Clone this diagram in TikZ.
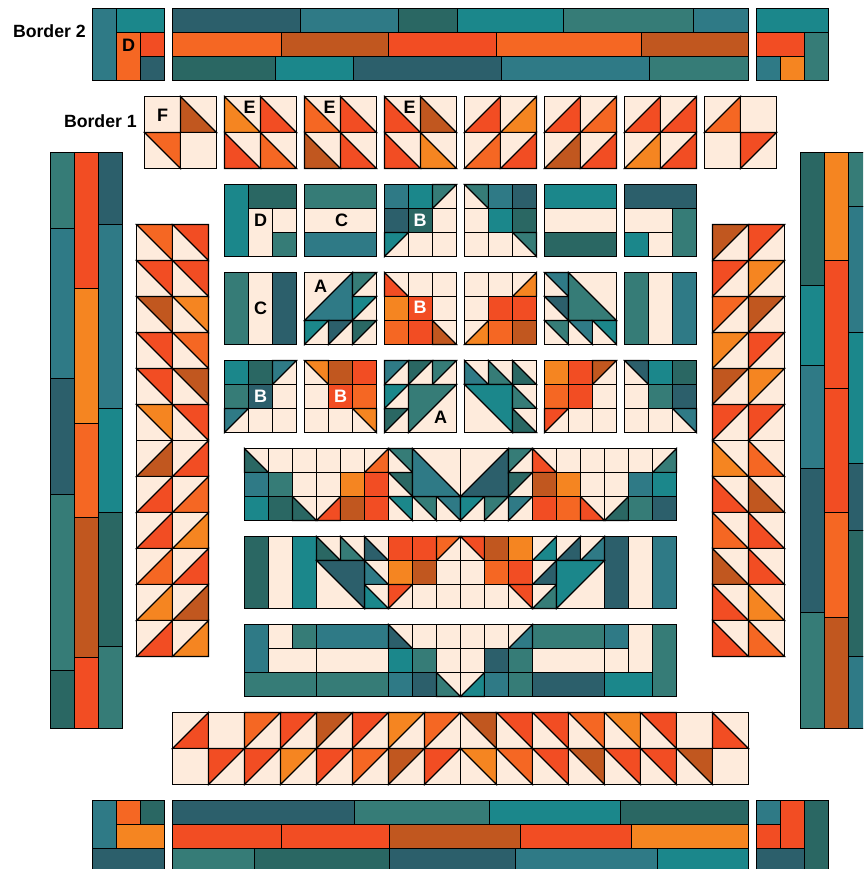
\documentclass[tikz,border=0pt]{standalone}
\usepackage{fontspec}
\setmainfont{Liberation Sans}
\definecolor{turq}{HTML}{1B878B}
\definecolor{sage}{HTML}{367C77}
\definecolor{azul}{HTML}{2F7A86}
\definecolor{navy}{HTML}{2C5F6B}
\definecolor{pine}{HTML}{2A6763}
\definecolor{rojo}{HTML}{F24D23}
\definecolor{naran}{HTML}{F56723}
\definecolor{oro}{HTML}{F58521}
\definecolor{rust}{HTML}{C1571F}
\definecolor{crema}{HTML}{FEEBDC}
\tikzset{
  seam/.style={draw=black,line width=1.1pt,line join=miter},
  tag/.style={font=\bfseries\fontsize{18}{18}\selectfont,inner sep=0pt,text=black},
  tagw/.style={tag,text=white},
  title/.style={font=\bfseries\fontsize{17.7}{18}\selectfont,inner sep=0pt,anchor=east}
}
\newcommand{\tF}{(0,0) rectangle (1,1)}
\newcommand{\tll}{(0,0) -- (0,1) -- (1,1) -- cycle}
\newcommand{\tur}{(0,0) -- (1,0) -- (1,1) -- cycle}
\newcommand{\tul}{(0,1) -- (0,0) -- (1,0) -- cycle}
\newcommand{\tlr}{(0,1) -- (1,1) -- (1,0) -- cycle}
\newcommand{\patch}[5]{%
  \begin{scope}[shift={(#1,#2)},scale=#3]
    \draw[seam,fill=crema] (0,0) rectangle (1,1);
    \draw[seam,fill=#5] \csname t#4\endcsname;
  \end{scope}}
\newcommand{\patchrow}[4]{%
  \foreach \tp/\col [count=\k from 0] in {#4}{
    \pgfmathsetmacro{\px}{#1+\k*#3}
    \patch{\px}{#2}{#3}{\tp}{\col}
  }}
\newcommand{\bars}[1]{%
  \foreach \xa/\ya/\xb/\yb/\col in {#1}{
    \draw[seam,fill=\col] (\xa,\ya) rectangle (\xb,\yb);
  }}
\begin{document}
\begin{tikzpicture}[x=1pt,y=-1pt,line cap=butt]
  \path[use as bounding box,clip] (-0.5,-0.5) rectangle (862.5,868.5);
  % border 2
  \bars{92/8/116/80/azul, 116/8/164/32/turq, 116/32/140/80/naran, 140/32/164/56/rojo, 140/56/164/80/navy,
        756/8/828/32/turq, 756/32/804/56/rojo, 804/32/828/80/sage, 756/56/780/80/azul, 780/56/804/80/oro,
        92/800/116/848/azul, 116/800/140/824/naran, 140/800/164/824/pine, 116/824/164/848/oro, 92/848/164/872/navy,
        756/800/780/824/azul, 780/800/804/848/rojo, 804/800/828/872/pine, 756/824/780/848/rojo, 756/848/804/872/navy}
  \bars{172/8/300/32/navy, 300/8/398/32/azul, 398/8/457/32/pine, 457/8/563/32/turq, 563/8/693/32/sage, 693/8/748/32/azul,
        172/32/281/56/naran, 281/32/388/56/rust, 388/32/496/56/rojo, 496/32/641/56/naran, 641/32/748/56/rust,
        172/56/275/80/pine, 275/56/353/80/turq, 353/56/501/80/navy, 501/56/649/80/azul, 649/56/748/80/sage}
  \bars{172/800/354/824/navy, 354/800/489/824/sage, 489/800/620/824/turq, 620/800/748/824/pine,
        172/824/281/848/rojo, 281/824/389/848/rojo, 389/824/520/848/rust, 520/824/631/848/rojo, 631/824/748/848/oro,
        172/848/254/872/sage, 254/848/389/872/pine, 389/848/515/872/navy, 515/848/657/872/azul, 657/848/748/872/turq}
  \bars{50/152/74/228/sage, 50/228/74/378/azul, 50/378/74/494/navy, 50/494/74/670/sage, 50/670/74/728/pine,
        74/152/98/288/rojo, 74/288/98/423/oro, 74/423/98/517/naran, 74/517/98/657/rust, 74/657/98/728/rojo,
        98/152/122/224/navy, 98/224/122/408/azul, 98/408/122/512/turq, 98/512/122/646/pine, 98/646/122/728/sage}
  \bars{800/152/824/285/pine, 800/285/824/365/turq, 800/365/824/468/azul, 800/468/824/612/navy, 800/612/824/728/sage,
        824/152/848/260/oro, 824/260/848/388/rojo, 824/388/848/512/rojo, 824/512/848/617/naran, 824/617/848/728/rust,
        848/152/872/206/sage, 848/206/872/332/azul, 848/332/872/463/turq, 848/463/872/530/navy, 848/530/872/656/pine, 848/656/872/728/azul}
  % border 1
  \patchrow{144}{96}{36}{F/crema,ll/rust} \patchrow{144}{132}{36}{ur/naran,F/crema}
  \patchrow{224}{96}{36}{ll/oro,ll/rojo} \patchrow{224}{132}{36}{ll/rojo,ll/naran}
  \patchrow{304}{96}{36}{ll/naran,ll/rojo} \patchrow{304}{132}{36}{ll/rust,ll/rojo}
  \patchrow{384}{96}{36}{ll/rojo,ll/rust} \patchrow{384}{132}{36}{ll/rojo,ll/oro}
  \patchrow{464}{96}{36}{lr/rojo,lr/oro} \patchrow{464}{132}{36}{lr/naran,lr/rojo}
  \patchrow{544}{96}{36}{lr/rojo,lr/naran} \patchrow{544}{132}{36}{lr/rust,lr/rojo}
  \patchrow{624}{96}{36}{lr/rojo,lr/rojo} \patchrow{624}{132}{36}{lr/oro,lr/rojo}
  \patchrow{704}{96}{36}{lr/naran,F/crema} \patchrow{704}{132}{36}{F/crema,ul/rojo}
  \foreach \y/\a/\b in {224/naran/rojo,260/rojo/rojo,296/rust/oro,332/rojo/naran,368/rojo/rust,404/oro/rojo}{
    \patchrow{136}{\y}{36}{ur/\a,ur/\b}
  }
  \foreach \y/\a/\b in {440/rust/rojo,476/rojo/naran,512/rojo/oro,548/naran/rojo,584/oro/rust,620/rojo/oro}{
    \patchrow{136}{\y}{36}{lr/\a,lr/\b}
  }
  \foreach \y/\a/\b in {224/rust/rojo,260/rojo/oro,296/naran/rust,332/oro/rojo,368/rust/oro,404/rojo/rojo}{
    \patchrow{712}{\y}{36}{ul/\a,ul/\b}
  }
  \foreach \y/\a/\b in {440/oro/naran,476/rojo/rust,512/naran/rojo,548/rust/rojo,584/rojo/oro,620/rojo/naran}{
    \patchrow{712}{\y}{36}{ll/\a,ll/\b}
  }
  \patchrow{172}{712}{36}{lr/rojo,F/crema,ul/naran,ul/rojo,ul/rust,ul/rojo,ul/oro,ul/naran,
                          ur/rust,ur/rojo,ur/rojo,ur/naran,ur/oro,ur/rojo,F/crema,ll/rojo}
  \patchrow{172}{748}{36}{F/crema,ul/rojo,ul/rojo,ul/oro,ul/rojo,ul/naran,ul/rust,ul/rojo,
                          ur/oro,ur/naran,ur/rojo,ur/rust,ur/rojo,ur/rojo,ur/rust,F/crema}
  % first row of blocks
  \bars{224/184/248/256/turq, 248/184/296/208/pine, 248/208/272/256/crema, 272/208/296/232/crema, 272/232/296/256/sage,
        304/184/376/208/sage, 304/208/376/232/crema, 304/232/376/256/azul,
        544/184/616/208/turq, 544/208/616/232/crema, 544/232/616/256/pine,
        624/184/696/208/navy, 624/208/672/232/crema, 672/208/696/256/sage, 624/232/648/256/turq, 648/232/672/256/crema}
  \patchrow{384}{184}{24}{F/azul,F/turq,ul/sage}
  \patchrow{384}{208}{24}{F/navy,F/pine,F/crema}
  \patchrow{384}{232}{24}{ul/turq,F/crema,F/crema}
  \patchrow{464}{184}{24}{ur/sage,F/azul,F/navy}
  \patchrow{464}{208}{24}{F/crema,F/turq,F/pine}
  \patchrow{464}{232}{24}{F/crema,F/crema,ur/sage}
  % second row of blocks
  \bars{224/272/248/344/sage, 248/272/272/344/crema, 272/272/296/344/navy,
        624/272/648/344/sage, 648/272/672/344/crema, 672/272/696/344/azul}
  \patch{304}{272}{48}{lr}{azul}
  \patch{352}{272}{24}{ul}{sage}
  \patch{352}{296}{24}{ul}{turq}
  \patchrow{304}{320}{24}{ul/turq,ul/navy,ul/pine}
  \patchrow{384}{272}{24}{ll/rojo,F/crema,F/crema}
  \patchrow{384}{296}{24}{F/oro,F/rojo,F/crema}
  \patchrow{384}{320}{24}{F/naran,F/rojo,ll/rust}
  \patchrow{464}{272}{24}{F/crema,F/crema,lr/oro}
  \patchrow{464}{296}{24}{F/crema,F/rojo,F/rojo}
  \patchrow{464}{320}{24}{lr/oro,F/naran,F/rust}
  \patch{544}{272}{24}{ur}{azul}
  \patch{544}{296}{24}{ur}{navy}
  \patch{568}{272}{48}{ll}{sage}
  \patchrow{544}{320}{24}{ur/sage,ur/azul,ur/turq}
  % third row of blocks
  \patchrow{224}{360}{24}{F/turq,F/pine,ul/azul}
  \patchrow{224}{384}{24}{F/sage,F/navy,F/crema}
  \patchrow{224}{408}{24}{ul/azul,F/crema,F/crema}
  \patchrow{304}{360}{24}{ur/oro,F/rust,F/rojo}
  \patchrow{304}{384}{24}{F/crema,F/rojo,F/naran}
  \patchrow{304}{408}{24}{F/crema,F/crema,ur/oro}
  \patchrow{384}{360}{24}{ul/azul,ul/pine,ul/sage}
  \patch{384}{384}{24}{ul}{turq}
  \patch{384}{408}{24}{ul}{pine}
  \patch{408}{384}{48}{ul}{sage}
  \patchrow{464}{360}{24}{ll/azul,ll/sage,ll/pine}
  \patch{464}{384}{48}{ur}{turq}
  \patch{512}{384}{24}{ll}{sage}
  \patch{512}{408}{24}{ll}{pine}
  \patchrow{544}{360}{24}{F/oro,F/rojo,ul/rust}
  \patchrow{544}{384}{24}{F/naran,F/rojo,F/crema}
  \patchrow{544}{408}{24}{ul/rojo,F/crema,F/crema}
  \patchrow{624}{360}{24}{ur/navy,F/turq,F/pine}
  \patchrow{624}{384}{24}{F/crema,F/sage,F/navy}
  \patchrow{624}{408}{24}{F/crema,F/crema,ur/azul}
  % long strips
  \patchrow{244}{448}{24}{ll/pine,F/crema,F/crema,F/crema,F/crema,lr/naran,ur/sage}
  \patchrow{244}{472}{24}{F/azul,F/sage,F/crema,F/crema,F/oro,F/rojo,ur/pine}
  \patchrow{244}{496}{24}{F/turq,F/pine,ll/pine,lr/rojo,F/rust,F/rojo,ur/turq,ur/sage,ur/azul,
                          ul/turq,ul/sage,ul/azul,F/rojo,F/naran,ll/rojo,lr/pine,F/sage,F/navy}
  \patch{412}{448}{48}{ll}{azul}
  \patch{460}{448}{48}{lr}{navy}
  \patchrow{508}{448}{24}{ul/sage,ll/rojo,F/crema,F/crema,F/crema,F/crema,lr/sage}
  \patchrow{508}{472}{24}{ul/pine,F/rust,F/oro,F/crema,F/crema,F/azul,F/turq}
  \bars{244/536/268/608/pine, 268/536/292/608/crema, 292/536/316/608/turq,
        604/536/628/608/navy, 628/536/652/608/crema, 652/536/676/608/azul}
  \patchrow{316}{536}{24}{ll/pine,ll/sage,ll/navy,F/rojo,F/rojo,ul/naran,ur/rojo,F/rust,F/oro,lr/turq,lr/navy,lr/azul}
  \patchrow{364}{560}{24}{ll/azul,F/oro,F/rust,F/crema,F/crema,F/naran,F/rojo,lr/navy}
  \patchrow{364}{584}{24}{ll/turq,ul/rojo,F/crema,F/crema,F/crema,F/crema,ur/rojo,lr/sage}
  \patch{316}{560}{48}{ur}{navy}
  \patch{556}{560}{48}{ul}{turq}
  \bars{244/624/268/672/azul, 268/624/292/648/crema, 292/624/316/648/sage, 316/624/388/648/azul,
        268/648/316/672/crema, 316/648/388/672/crema, 244/672/316/696/sage, 316/672/388/696/sage,
        532/624/604/648/sage, 604/624/628/648/azul, 628/624/652/672/crema, 652/624/676/696/sage,
        532/648/604/672/crema, 604/648/628/672/crema, 532/672/604/696/navy, 604/672/652/696/turq}
  \patchrow{388}{624}{24}{ll/navy,F/crema,F/crema,F/crema,F/crema,lr/azul}
  \patchrow{388}{648}{24}{F/turq,F/sage,F/crema,F/crema,F/navy,F/sage}
  \patchrow{388}{672}{24}{F/azul,F/navy,ll/sage,lr/turq,F/azul,F/sage}
  % labels
  \node[title] (borderb) at (85.5,31) {Border 2};
  \node[title] (bordera) at (136.5,120.5) {Border 1};
  \foreach \nm/\x/\y/\l in {d1/128/45/D, f1/162/115/F, e1/249/107/E, e2/329/107/E, e3/409/107/E,
                            d2/260/220/D, c1/341/220/C, c2/260/308/C, a1/320/286/A, a2/440/417/A}{
    \node[tag] (\nm) at (\x,\y) {\l};
  }
  \foreach \nm/\x/\y in {b1/419.5/220, b2/419.5/307, b3/260/396, b4/340/396}{
    \node[tagw] (\nm) at (\x,\y) {B};
  }
\end{tikzpicture}
\end{document}
